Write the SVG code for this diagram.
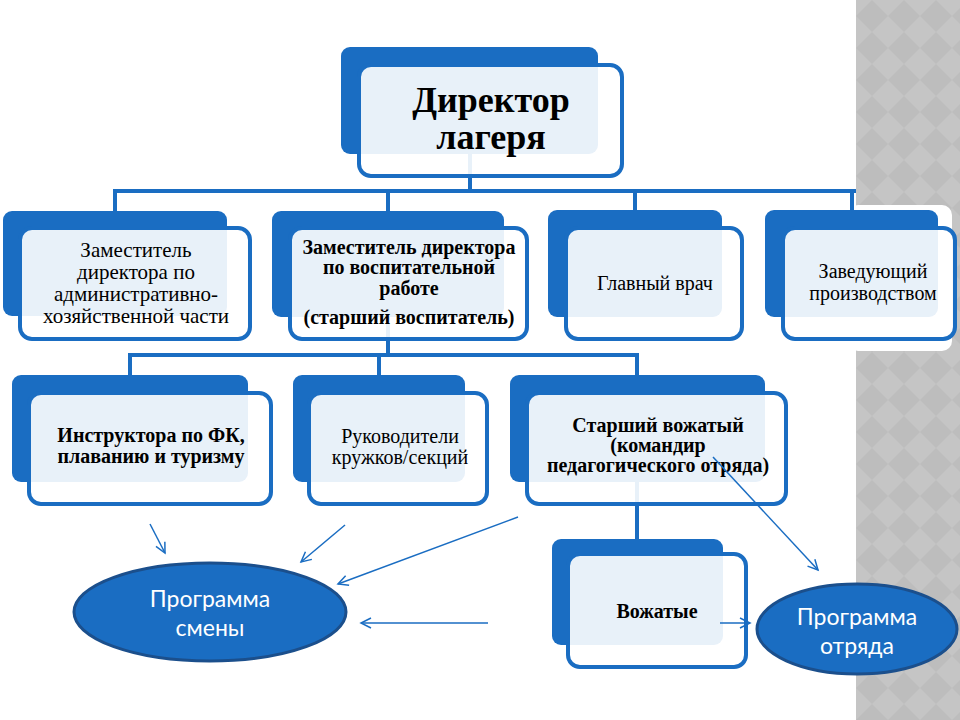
<svg xmlns="http://www.w3.org/2000/svg" width="960" height="720" viewBox="0 0 960 720">
<defs>
<pattern id="dia" x="856" y="0" width="32" height="32" patternUnits="userSpaceOnUse">
<rect width="32" height="32" fill="#c5c5c5"/>
<polygon points="16,0 32,16 16,32 0,16" fill="#bdbdbd"/>
</pattern>
<marker id="ah" markerWidth="14" markerHeight="14" refX="11" refY="6" orient="auto" markerUnits="userSpaceOnUse">
<path d="M1,1 L11,6 L1,11" fill="none" stroke="#1a6dc2" stroke-width="1.5"/>
</marker>
<style>
.back{fill:#1a6dc2}
.front{fill:#fff;fill-opacity:0.9;stroke:#1a6dc2;stroke-width:4}
.conn{stroke:#1a6dc2;stroke-width:4;fill:none}
.arr{stroke:#1a6dc2;stroke-width:1.5;fill:none;marker-end:url(#ah)}
.t{font-family:"Liberation Serif","Times New Roman",serif;fill:#000;text-anchor:middle;font-size:20px}
.b{font-weight:bold}
.big{font-size:36px}
.r21{font-size:21px}
.e{fill:#1a6dc2;stroke:#1b4f8c;stroke-width:3}
.et{font-family:Lato,"Open Sans",sans-serif;fill:#fff;font-size:23px;text-anchor:middle}
</style>
</defs>
<rect width="960" height="720" fill="#fff"/>
<rect x="856" y="0" width="104" height="720" fill="url(#dia)"/>
<rect x="848" y="205" width="104" height="146" rx="10" fill="#fff"/>

<g id="backs">
<rect class="back" x="341" y="47" width="257" height="107" rx="9"/>
<rect class="back" x="3" y="211" width="224" height="105" rx="9"/>
<rect class="back" x="272" y="211" width="232" height="106" rx="9"/>
<rect class="back" x="548" y="210" width="174" height="107" rx="9"/>
<rect class="back" x="765" y="210" width="173" height="107" rx="9"/>
<rect class="back" x="12" y="375" width="236" height="107" rx="9"/>
<rect class="back" x="293" y="375" width="172" height="107" rx="9"/>
<rect class="back" x="510" y="375" width="255" height="107" rx="9"/>
<rect class="back" x="552" y="539" width="171" height="106" rx="9"/>
</g>

<g id="connectors">
<path class="conn" d="M470 154 V191 M113 191 H856 M115 189 V211 M388 189 V211 M635 189 V210 M852 189 V210"/>
<path class="conn" d="M388 317 V355 M128 355 H639 M130 353 V375 M379 353 V375 M637 353 V375"/>
<path class="conn" d="M637 482 V539"/>
</g>

<g id="director">
<rect class="front" x="359" y="65" width="263" height="111" rx="12"/>
<text class="t b big" x="491" y="112">Директор</text>
<text class="t b big" x="491" y="149">лагеря</text>
</g>
<g id="zam-ahch">
<rect class="front" x="20" y="228" width="230" height="111" rx="12"/>
<text class="t r21" x="136" y="257">Заместитель</text>
<text class="t r21" x="136" y="279">директора по</text>
<text class="t r21" x="136" y="301">административно-</text>
<text class="t r21" x="136" y="323">хозяйственной части</text>
</g>
<g id="zam-vr">
<rect class="front" x="290" y="228" width="237" height="111" rx="12"/>
<text class="t b" x="409" y="254">Заместитель директора</text>
<text class="t b" x="409" y="274">по воспитательной</text>
<text class="t b" x="409" y="295">работе</text>
<text class="t b" x="409" y="324">(старший воспитатель)</text>
</g>
<g id="vrach">
<rect class="front" x="566" y="228" width="176" height="111" rx="12"/>
<text class="t" x="655" y="290">Главный врач</text>
</g>
<g id="zav">
<rect class="front" x="783" y="228" width="172" height="111" rx="12"/>
<text class="t" x="873" y="278">Заведующий</text>
<text class="t" x="873" y="300">производством</text>
</g>
<g id="instr">
<rect class="front" x="29" y="393" width="242" height="111" rx="12"/>
<text class="t b" x="151" y="442">Инструктора по ФК,</text>
<text class="t b" x="151" y="463">плаванию и туризму</text>
</g>
<g id="ruk">
<rect class="front" x="309" y="393" width="178" height="111" rx="12"/>
<text class="t" x="400" y="443">Руководители</text>
<text class="t" x="400" y="464">кружков/секций</text>
</g>
<g id="st-vozh">
<rect class="front" x="527" y="393" width="259" height="111" rx="12"/>
<text class="t b" x="658" y="432">Старший вожатый</text>
<text class="t b" x="658" y="452">(командир</text>
<text class="t b" x="658" y="472">педагогического отряда)</text>
</g>
<g id="vozh">
<rect class="front" x="568" y="554" width="178" height="113" rx="12"/>
<text class="t b" x="657" y="618">Вожатые</text>
</g>
<g id="prog-smeny">
<ellipse class="e" cx="210" cy="612" rx="136" ry="49"/>
<text class="et" x="210" y="607">Программа</text>
<text class="et" x="210" y="636">смены</text>
</g>
<g id="prog-otr">
<ellipse class="e" cx="857" cy="629" rx="100" ry="45"/>
<text class="et" x="857" y="625">Программа</text>
<text class="et" x="857" y="654">отряда</text>
</g>
<g id="arrows">
<line class="arr" x1="150" y1="524" x2="165" y2="553"/>
<line class="arr" x1="345" y1="525" x2="301" y2="562"/>
<line class="arr" x1="518" y1="517" x2="338" y2="584"/>
<line class="arr" x1="488" y1="623" x2="361" y2="623"/>
<line class="arr" x1="713" y1="457" x2="818" y2="570"/>
<line class="arr" x1="720" y1="623" x2="750" y2="623"/>
</g>
</svg>
